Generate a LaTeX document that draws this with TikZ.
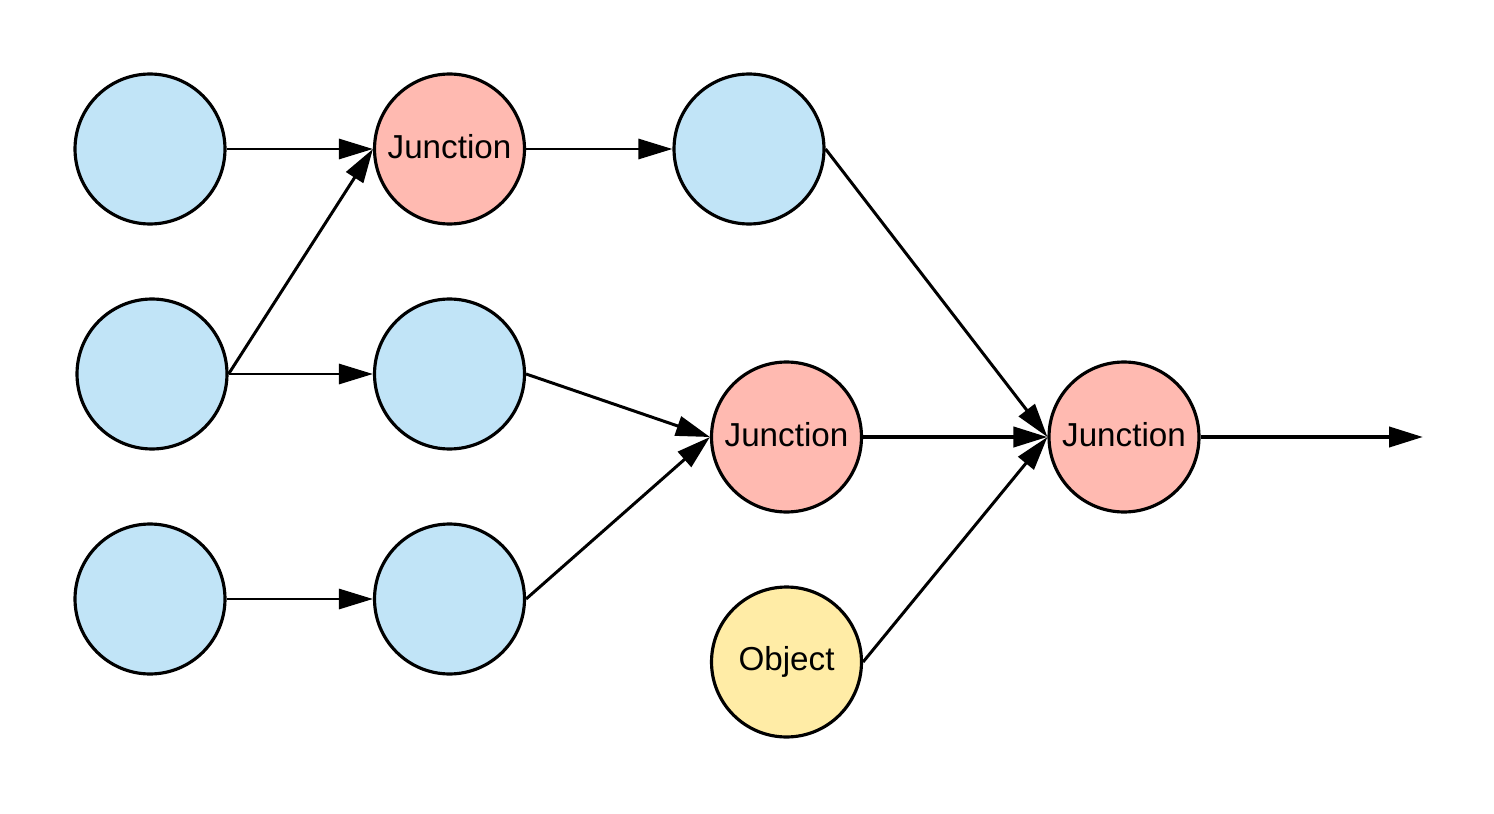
\documentclass[tikz,border=0pt]{standalone}
\usepackage{fontspec}
\setmainfont{Liberation Sans}
\usetikzlibrary{arrows.meta}
\definecolor{cblue}{RGB}{193,228,247}
\definecolor{cred}{RGB}{255,186,177}
\definecolor{cyellow}{RGB}{255,236,166}
\newcommand{\uptext}[1]{\raisebox{3.4pt}{#1}}
\begin{document}
\begin{tikzpicture}[x=0.02cm,y=-0.02cm,
  nd/.style={circle,draw=black,line width=1.8pt,minimum size=3cm,inner sep=0pt,font=\fontsize{18.9}{22}\selectfont},
  bluend/.style={nd,fill=cblue},
  rednd/.style={nd,fill=cred},
  yellownd/.style={nd,fill=cyellow},
  conn/.style={line width=1.7pt,-{Triangle[length=0.68cm,width=0.4cm]}},
  thickconn/.style={line width=2.3pt,-{Triangle[length=0.68cm,width=0.4cm]}}]
\useasboundingbox (0,0) rectangle (1494,814);
\node[bluend] (a1) at (150,149) {};
\node[bluend] (a2) at (152,374) {};
\node[bluend] (a3) at (150,599) {};
\node[rednd] (j1) at (449.5,149) {\uptext{Junction}};
\node[bluend] (b2) at (449.5,374) {};
\node[bluend] (b3) at (449.5,599) {};
\node[bluend] (c1) at (749,149) {};
\node[rednd] (j2) at (786.5,437) {\uptext{Junction}};
\node[yellownd] (ob) at (786.5,662) {\uptext{Object}};
\node[rednd] (j3) at (1124,437) {\uptext{Junction}};
\coordinate (out) at (1423,437);
\draw[conn] (a1.east) -- (j1.west);
\draw[conn] (a2.east) -- (j1.west);
\draw[conn] (a2.east) -- (b2.west);
\draw[conn] (a3.east) -- (b3.west);
\draw[conn] (j1.east) -- (c1.west);
\draw[conn] (b2.east) -- (j2.west);
\draw[conn] (b3.east) -- (j2.west);
\draw[conn] (c1.east) -- (j3.west);
\draw[thickconn] (j2.east) -- (j3.west);
\draw[conn] (ob.east) -- (j3.west);
\draw[thickconn] (j3.east) -- (out);
\end{tikzpicture}
\end{document}
